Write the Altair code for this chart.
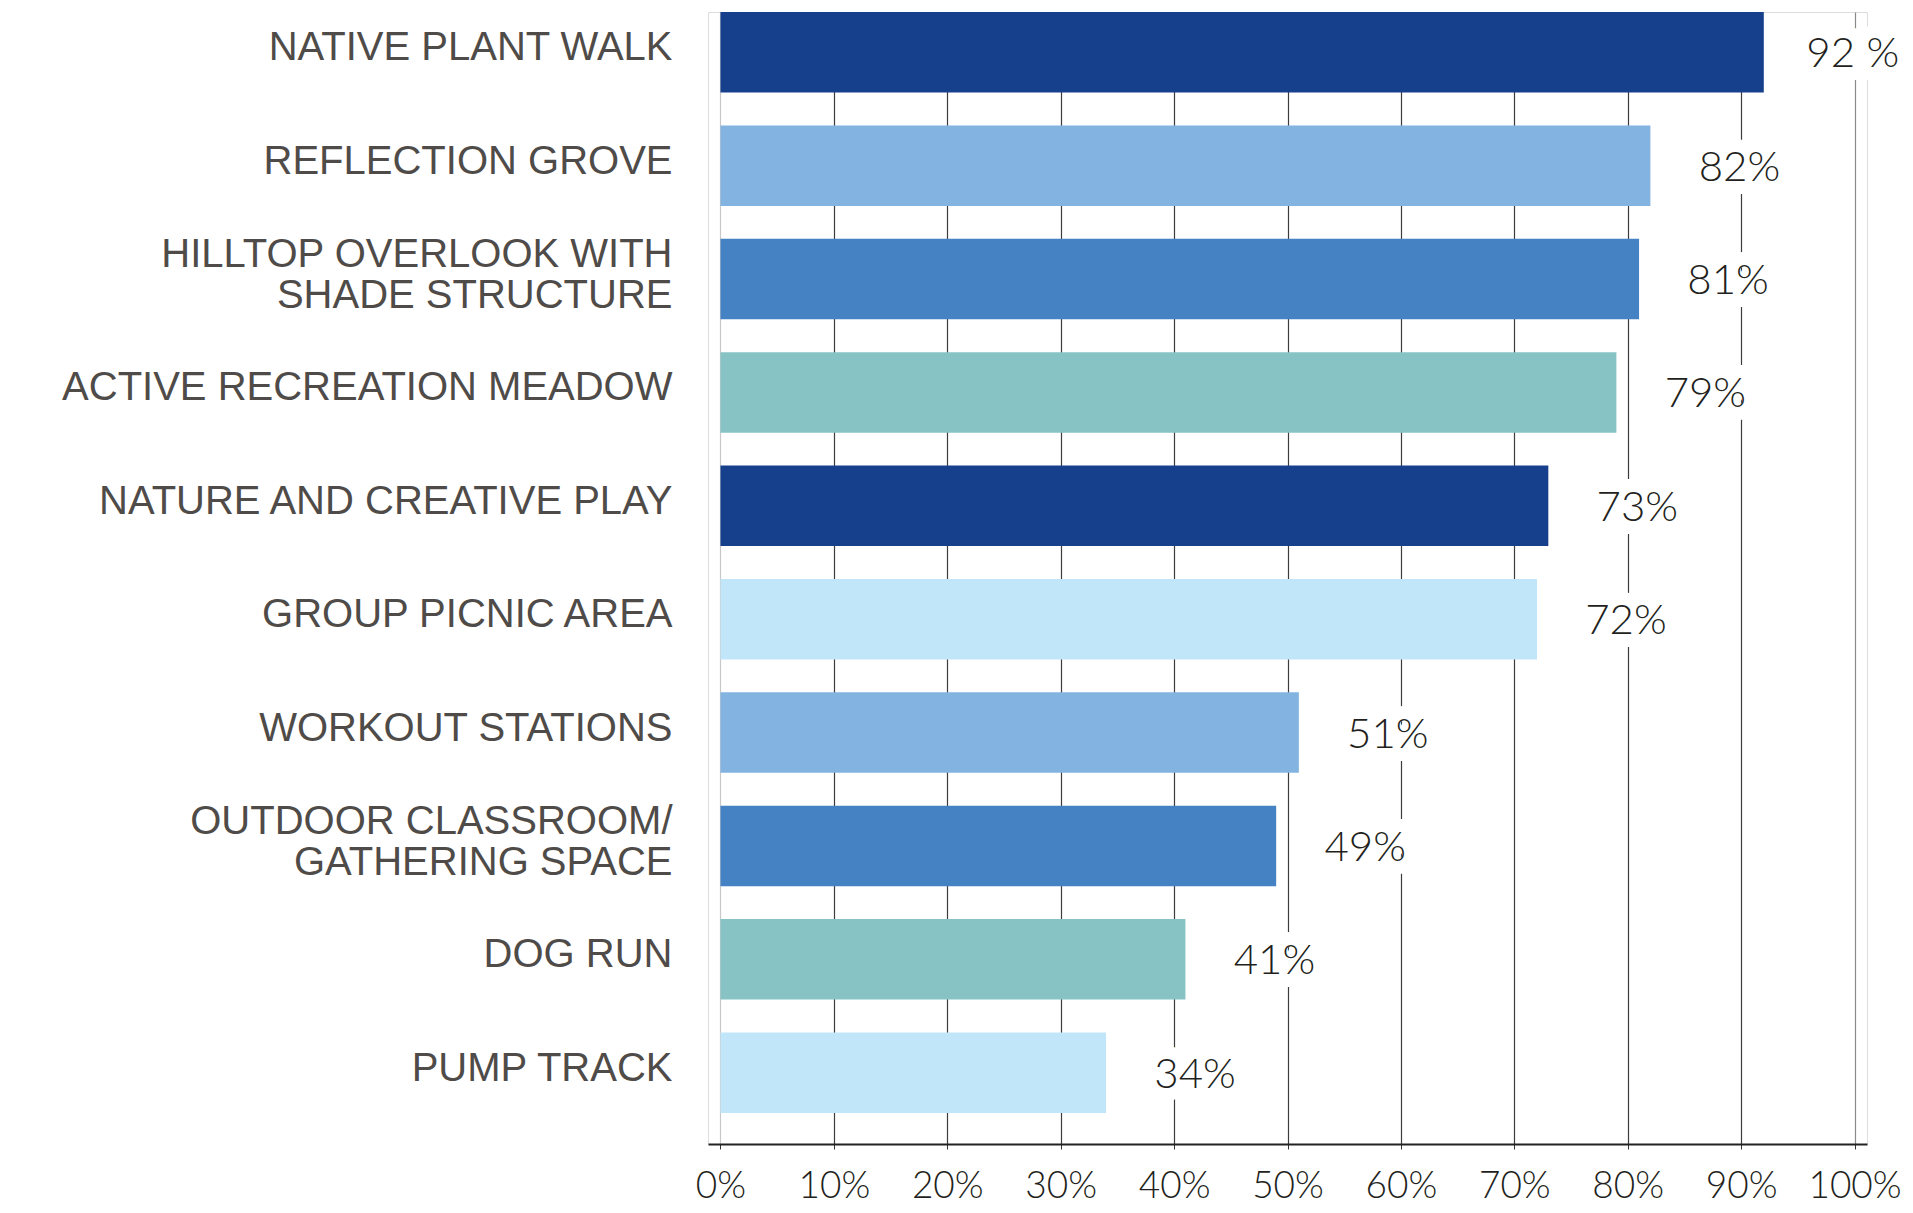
import altair as alt
import pandas as pd

categories = [
    "NATIVE PLANT WALK",
    "REFLECTION GROVE",
    "HILLTOP OVERLOOK WITH|SHADE STRUCTURE",
    "ACTIVE RECREATION MEADOW",
    "NATURE AND CREATIVE PLAY",
    "GROUP PICNIC AREA",
    "WORKOUT STATIONS",
    "OUTDOOR CLASSROOM/|GATHERING SPACE",
    "DOG RUN",
    "PUMP TRACK",
]
values = [92, 82, 81, 79, 73, 72, 51, 49, 41, 34]
value_labels = ["92 %", "82%", "81%", "79%", "73%", "72%", "51%", "49%", "41%", "34%"]
bar_colors = ["#17408c", "#82b3e1", "#4482c3", "#87c3c4", "#17408c",
              "#c2e6f9", "#82b3e1", "#4482c3", "#87c3c4", "#c2e6f9"]
tick_values = [0, 10, 20, 30, 40, 50, 60, 70, 80, 90, 100]

df = pd.DataFrame({"category": categories, "value": values, "label": value_labels})

x_enc = alt.X(
    "value:Q",
    scale=alt.Scale(domain=[-1.1, 101.1], nice=False, zero=False),
    axis=alt.Axis(
        values=tick_values,
        labelExpr="datum.value + '%'",
        title=None,
        grid=True,
        gridColor={
            "condition": [
                {"test": "datum.value === 0", "value": "#c8c8c8"},
                {"test": "datum.value === 100", "value": "#8a8a8a"},
            ],
            "value": "#3c3c3c",
        },
        gridWidth=1.2,
        domain=True,
        domainColor="#222222",
        domainWidth=2,
        ticks=True,
        tickColor="#333333",
        tickSize=5,
        labelFont="Lato",
        labelFontWeight=300,
        labelFontSize=37,
        labelColor="#231f20",
        labelPadding=19,
        labelFlush=False,
        labelOverlap=False,
    ),
)

y_enc = alt.Y(
    "category:N",
    sort=categories,
    scale=alt.Scale(paddingInner=0.29, paddingOuter=0.137, align=0),
    axis=alt.Axis(
        title=None,
        domain=False,
        ticks=False,
        grid=False,
        labelExpr="split(datum.label, '|')",
        labelFont="Liberation Sans",
        labelFontSize=40,
        labelColor="#4f4b48",
        labelPadding=36,
        labelLimit=0,
        labelLineHeight=41,
        labelBaseline="middle",
        labelOffset={
            "condition": {"test": "indexof(datum.value, '|') >= 0", "value": -24},
            "value": -4,
        },
    ),
)

base = alt.Chart(df)

bars = base.mark_bar().encode(
    x=x_enc,
    y=y_enc,
    color=alt.Color("category:N", scale=alt.Scale(domain=categories, range=bar_colors), legend=None),
)

halo = base.mark_text(
    align="center", baseline="middle", dx=89, dy=2,
    font="Lato", fontSize=42, fontWeight=300,
    fill="white", stroke="white", strokeWidth=26,
).encode(x="value:Q", y=alt.Y("category:N", sort=categories), text="label:N")

labels = base.mark_text(
    align="center", baseline="middle", dx=89, dy=2,
    font="Lato", fontSize=42, fontWeight=300, color="#231f20",
).encode(x="value:Q", y=alt.Y("category:N", sort=categories), text="label:N")

chart = (
    alt.layer(bars, halo, labels)
    .properties(
        width=1159,
        height=1132,
        autosize=alt.AutoSizeParams(type="none"),
        padding={"left": 700, "top": 4, "right": 34, "bottom": 61},
    )
    .configure_view(stroke=None)
    .configure(background="white")
)

chart.save("out.html", embed_options={"renderer": "svg", "actions": False})
